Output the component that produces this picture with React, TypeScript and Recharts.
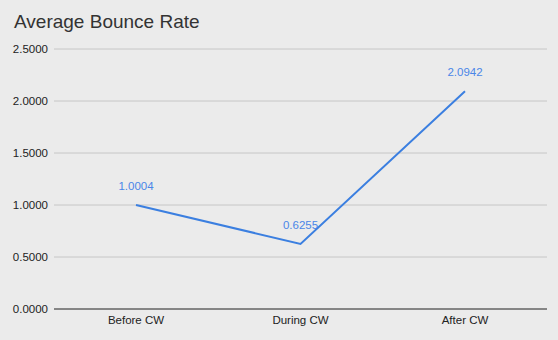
import React from 'react';
import { LineChart, Line, XAxis, YAxis, CartesianGrid, LabelList } from 'recharts';

const categories = ['Before CW', 'During CW', 'After CW'];
const bounceRate = [1.0004, 0.6255, 2.0942];
const yTicks = [0, 0.5, 1.0, 1.5, 2.0, 2.5];
const title = 'Average Bounce Rate';

const data = categories.map((c, i) => ({ name: c, value: bounceRate[i] }));

export default function App() {
  return (
    <div style={{ position: 'fixed', top: 0, left: 0, width: 558, height: 340, background: '#ebebeb', fontFamily: '"Liberation Sans", Arial, sans-serif' }}>
      <div style={{ position: 'absolute', left: 14, top: 10, fontSize: 19, color: '#333', lineHeight: '24px' }}>{title}</div>
      <LineChart width={558} height={340} data={data} margin={{ top: 49, right: 11, bottom: 0, left: 0 }}>
        <CartesianGrid horizontal={true} vertical={false} stroke="#c6c6c6" strokeWidth={1} />
        <XAxis
          dataKey="name"
          height={31}
          padding={{ left: 82, right: 82 }}
          tickLine={false}
          tickSize={0}
          tickMargin={7}
          axisLine={{ stroke: '#333', strokeWidth: 1 }}
          tick={{ fill: '#222', fontSize: 11.5 }}
        />
        <YAxis
          width={54}
          domain={[0, 2.5]}
          ticks={yTicks}
          tickFormatter={(v: number) => v.toFixed(4)}
          axisLine={false}
          tickLine={false}
          tickSize={0}
          tickMargin={6}
          tick={{ fill: '#222', fontSize: 11.5 }}
        />
        <Line type="linear" dataKey="value" stroke="#3b7fe0" strokeWidth={2} dot={false} isAnimationActive={false}>
          <LabelList dataKey="value" position="top" offset={15} fill="#4a86e8" fontSize={11.5} formatter={(v: number) => v.toFixed(4)} />
        </Line>
      </LineChart>
    </div>
  );
}
